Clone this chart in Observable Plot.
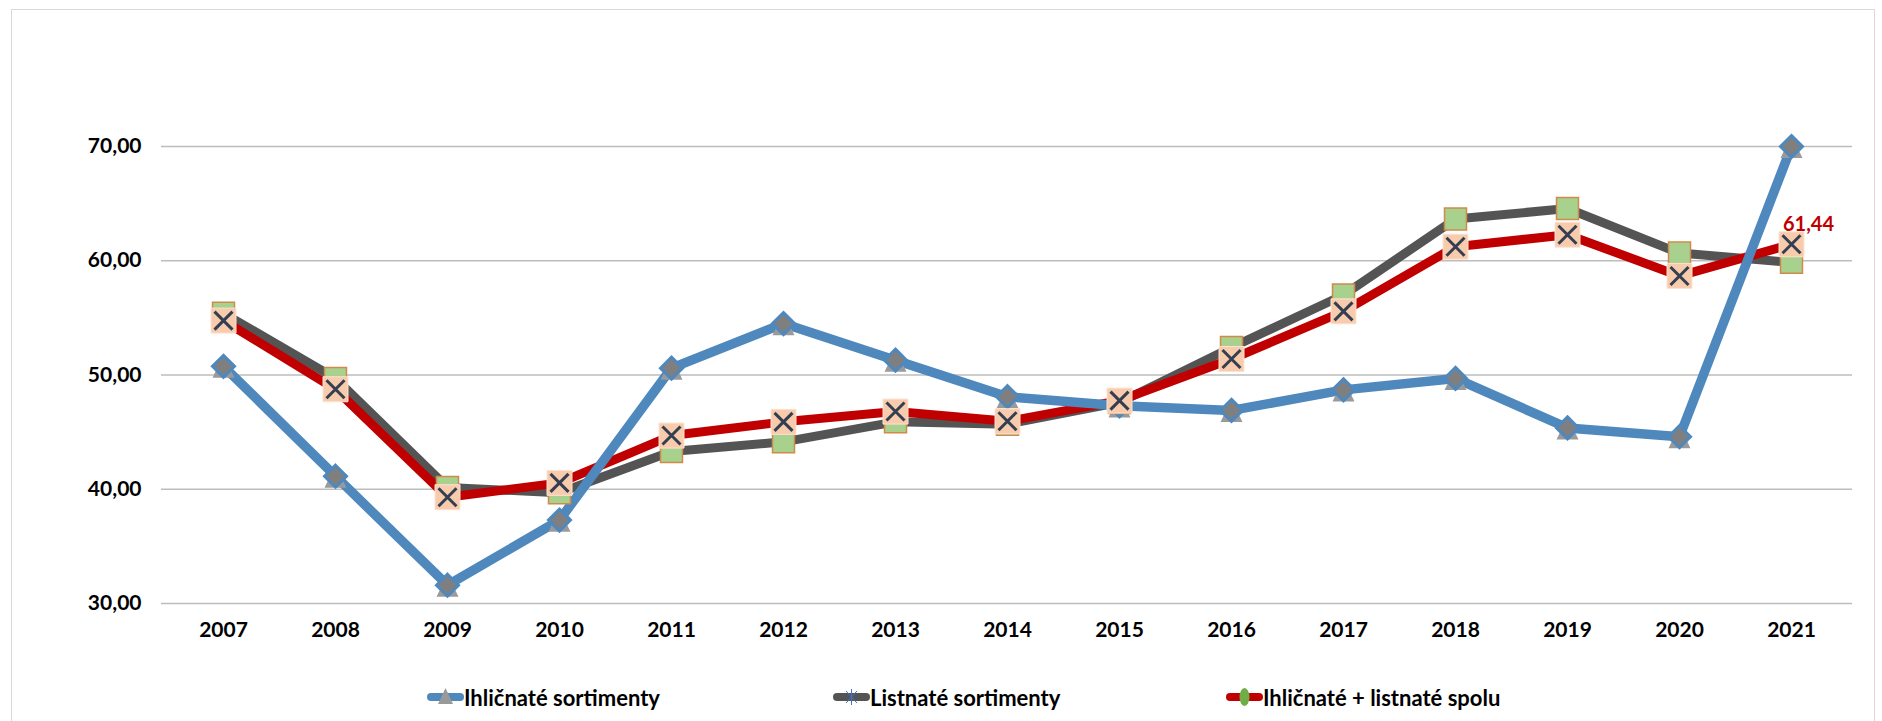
<!DOCTYPE html>
<html><head><meta charset="utf-8">
<script src="https://cdn.jsdelivr.net/npm/d3@7"></script>
<script src="https://cdn.jsdelivr.net/npm/@observablehq/plot@0.6"></script>
<style>
html,body{margin:0;padding:0;background:#fff;overflow:hidden;}
body{width:1882px;height:721px;position:relative;font-family:Lato,"Open Sans",sans-serif;}
#frame{position:absolute;left:11px;top:9px;width:1864px;height:800px;border:1.5px solid #d9d9d9;box-sizing:border-box;pointer-events:none;}
#chart svg{display:block;}
#legend{position:relative;width:1882px;height:61px;}
.item{position:absolute;top:25px;height:24px;display:flex;align-items:center;font-weight:700;font-size:22px;color:#000;white-space:nowrap;}
.item svg{display:block;margin-right:0;}
</style>
</head><body>
<div id="chart"></div>
<div id="legend"></div>
<div id="frame"></div>
<script>
const years = ["2007","2008","2009","2010","2011","2012","2013","2014","2015","2016","2017","2018","2019","2020","2021"];
const ihlicnate = [50.76, 41.14, 31.6, 37.3, 50.6, 54.5, 51.3, 48.1, 47.3, 46.9, 48.7, 49.7, 45.37, 44.6, 70.0];
const listnate  = [55.4, 49.7, 40.15, 39.7, 43.3, 44.15, 45.9, 45.7, 47.6, 52.4, 57.0, 63.65, 64.57, 60.67, 59.86];
const spolu     = [54.76, 48.75, 39.3, 40.56, 44.7, 45.9, 46.8, 45.95, 47.76, 51.4, 55.57, 61.23, 62.28, 58.67, 61.44];
const yTicks = [30, 40, 50, 60, 70];
const seriesNames = ["Ihličnaté sortimenty", "Listnaté sortimenty", "Ihličnaté + listnaté spolu"];

const rows = vals => years.map((year, i) => ({year, value: vals[i]}));
const dI = rows(ihlicnate), dL = rows(listnate), dS = rows(spolu);
const fmt = d => d.toFixed(2).replace(".", ",");

const sym = fn => ({draw(c, size) { fn(c, Math.sqrt(size / Math.PI)); }});
const diamond = sym((c, r) => { c.moveTo(0, -r); c.lineTo(r, 0); c.lineTo(0, r); c.lineTo(-r, 0); c.closePath(); });
const square = sym((c, r) => { c.rect(-r, -r, 2 * r, 2 * r); });
const triangle = sym((c, r) => { c.moveTo(0, -r); c.lineTo(r, r * 1.05); c.lineTo(-r, r * 1.05); c.closePath(); });
const cross = sym((c, r) => { c.moveTo(-r, -r); c.lineTo(r, r); c.moveTo(r, -r); c.lineTo(-r, r); });

const BLUE = "#4f88bd", GRAY = "#545454", RED = "#c00000";
const lineOpts = (stroke, w) => ({x: "year", y: "value", stroke, strokeWidth: w, strokeLinejoin: "round", strokeLinecap: "round"});

const chart = Plot.plot({
  width: 1882, height: 660,
  marginLeft: 161, marginRight: 30, marginTop: 146, marginBottom: 57,
  style: {fontFamily: "Lato, sans-serif", fontSize: "21px", fontWeight: 700, color: "#000", background: "transparent", overflow: "visible"},
  x: {type: "point", domain: years, padding: 0.5, label: null},
  y: {domain: [30, 70], label: null},
  marks: [
    Plot.gridY(yTicks, {stroke: "#bdbdbd", strokeOpacity: 1, strokeWidth: 1.4}),
    Plot.axisY(yTicks, {tickSize: 0, tickPadding: 20, tickFormat: fmt, fill: "#000", fontWeight: 700, fontSize: 21}),
    Plot.axisX({tickSize: 0, tickPadding: 19, fill: "#000", fontWeight: 700, fontSize: 21}),
    Plot.line(dL, lineOpts(GRAY, 9)),
    Plot.line(dS, lineOpts(RED, 9)),
    Plot.line(dI, lineOpts(BLUE, 9.5)),
    Plot.dot(dI, {x: "year", y: "value", symbol: triangle, r: 11, fill: "#9a9a9a", stroke: "none"}),
    Plot.dot(dI, {x: "year", y: "value", symbol: diamond, r: 11, fill: "#7f7f7f", stroke: BLUE, strokeWidth: 3}),
    Plot.dot(dL, {x: "year", y: "value", symbol: square, r: 11, fill: "#a9d18e", stroke: "#d08a4a", strokeWidth: 1.5}),
    Plot.dot(dS, {x: "year", y: "value", symbol: square, r: 12.5, fill: "#f8cbad", stroke: "#fbe3d2", strokeWidth: 1}),
    Plot.dot(dS, {x: "year", y: "value", symbol: cross, r: 9, fill: "none", stroke: "#333f50", strokeWidth: 3}),
    Plot.text(dS.slice(-1), {x: "year", y: "value", text: d => fmt(d.value), dx: 17, dy: -20, fill: RED, fontWeight: 700, fontSize: 20})
  ]
});
document.getElementById("chart").append(chart);

// legend
const legend = d3.select("#legend");
const items = [
  {name: seriesNames[0], left: 427, color: BLUE, marker: "triangle"},
  {name: seriesNames[1], left: 833, color: GRAY, marker: "asterisk"},
  {name: seriesNames[2], left: 1226, color: RED, marker: "ellipse"}
];
for (const it of items) {
  const div = legend.append("div").attr("class", "item").style("left", it.left + "px");
  const s = div.append("svg").attr("width", 37).attr("height", 24);
  s.append("line").attr("x1", 4).attr("x2", 33).attr("y1", 12).attr("y2", 12)
    .attr("stroke", it.color).attr("stroke-width", 8).attr("stroke-linecap", "round");
  if (it.marker === "triangle") {
    s.append("path").attr("d", "M18.5,3L26,19L11,19Z").attr("fill", "#999");
  } else if (it.marker === "asterisk") {
    s.append("path").attr("d", "M13,6L24,18M24,6L13,18M18.5,4L18.5,20").attr("stroke", "#4472c4").attr("stroke-width", 1).attr("fill", "none");
  } else {
    s.append("ellipse").attr("cx", 18.5).attr("cy", 12).attr("rx", 5).attr("ry", 9).attr("fill", "#70ad47");
  }
  div.append("span").text(it.name);
}
</script>
</body></html>
